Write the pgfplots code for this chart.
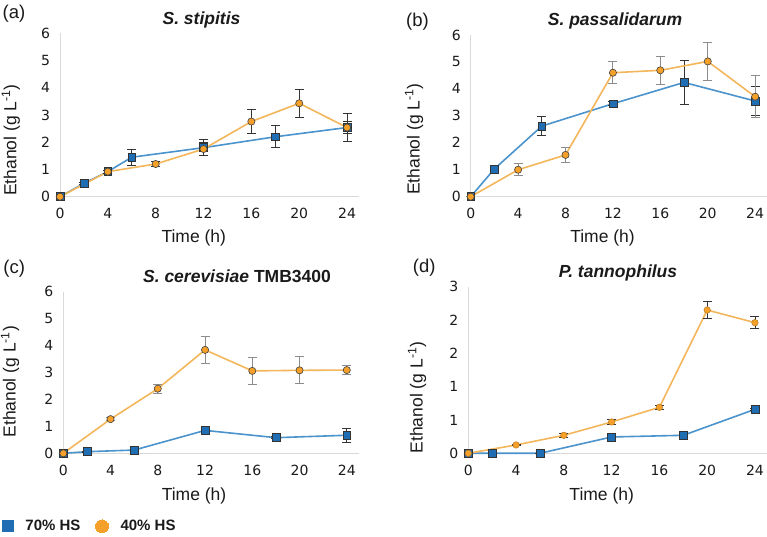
\documentclass[border=0pt]{standalone}
\usepackage{pgfplots}
\pgfplotsset{compat=1.18}
\usepackage{fontspec}
\setmainfont{Liberation Sans}
\newfontfamily\tickfont{DejaVu Sans}
\newcommand\tkf{\tickfont\fontsize{14bp}{16bp}\selectfont}
\definecolor{bluemk}{HTML}{1F6EB4}
\definecolor{blueln}{HTML}{4B93CC}
\definecolor{orgmk}{HTML}{F5A028}
\definecolor{orgln}{HTML}{F3B65B}
\definecolor{axgray}{HTML}{D9D9D9}
\definecolor{errgray}{HTML}{8C8C8C}
\definecolor{txt}{HTML}{1A1A1A}
\pgfplotsset{
  panel/.style={
    scale only axis, anchor=south west,
    xmin=0, xmax=25, ymin=0,
    xtick={0,4,...,24},
    axis x line=bottom, axis y line=left,
    axis line style={axgray, line width=1bp, -},
    major tick length=0pt,
    tick label style={font=\tkf, text=txt},
    xticklabel={\tkf\pgfmathprintnumber{\tick}},
    yticklabel={\tkf\pgfmathprintnumber{\tick}},
    xticklabel style={yshift=-8bp},
    yticklabel style={xshift=-6.5bp},
    /pgf/number format/assume math mode=true,
    clip=false,
  },
  bser/.style={color=blueln, line width=1.6bp, mark=square*,
    mark size=3.9bp, mark options={fill=bluemk, draw=black!80, line width=0.6bp},
    error bars/y dir=both, error bars/y explicit,
    error bars/error bar style={black!80, line width=0.9bp},
    error bars/error mark options={rotate=90, mark size=4.5bp, line width=0.9bp, black!80}},
  oser/.style={color=orgln, line width=1.6bp, mark=*,
    mark size=3.6bp, mark options={fill=orgmk, draw=black!75, line width=0.6bp},
    error bars/y dir=both, error bars/y explicit,
    error bars/error bar style={#1, line width=0.9bp},
    error bars/error mark options={rotate=90, mark size=4.5bp, line width=0.9bp, #1}},
  oser/.default={black!80},
}
\pgfplotstableread{
x y e
0 0 0
2 0.49 0.03
4 0.92 0.05
6 1.45 0.29
12 1.80 0.30
18 2.20 0.40
24 2.54 0.22
}\aB
\pgfplotstableread{
x y e
0 0 0
4 0.92 0.05
8 1.20 0.08
12 1.75 0.25
16 2.76 0.43
20 3.43 0.51
24 2.54 0.52
}\aO
\pgfplotstableread{
x y e
0 0 0
2 1.03 0.04
6 2.62 0.35
12 3.45 0.08
18 4.24 0.83
24 3.55 0.55
}\bB
\pgfplotstableread{
x y e
0 0 0
4 1.00 0.22
8 1.55 0.29
12 4.60 0.41
16 4.69 0.52
20 5.02 0.71
24 3.71 0.78
}\bO
\pgfplotstableread{
x y e
0 0 0
2 0.06 0.02
6 0.12 0.02
12 0.85 0.06
18 0.58 0.04
24 0.67 0.25
}\cB
\pgfplotstableread{
x y e
0 0 0
4 1.27 0.05
8 2.40 0.17
12 3.84 0.50
16 3.06 0.51
20 3.08 0.50
24 3.09 0.17
}\cO
\pgfplotstableread{
x y e
0 0 0
2 0 0
6 0 0
12 0.245 0.01
18 0.27 0.01
24 0.66 0.02
}\dB
\pgfplotstableread{
x y e
0 0 0
4 0.125 0.01
8 0.27 0.03
12 0.47 0.04
16 0.69 0.03
20 2.15 0.125
24 1.96 0.09
}\dO
\begin{document}
\begin{tikzpicture}
\useasboundingbox (0,0) rectangle (767bp,537bp);
% (a)
\begin{axis}[panel, at={(60bp,340.3bp)}, width=299bp, height=163.4bp, ymax=6, ytick={0,1,...,6}]
\addplot[bser] table[x=x,y=y,y error=e] {\aB};
\addplot[oser] table[x=x,y=y,y error=e] {\aO};
\end{axis}
% (b)
\begin{axis}[panel, at={(470.7bp,340.3bp)}, width=296.3bp, height=161.7bp, ymax=6, ytick={0,1,...,6}]
\addplot[bser] table[x=x,y=y,y error=e] {\bB};
\addplot[oser=errgray] table[x=x,y=y,y error=e] {\bO};
\end{axis}
% (c)
\begin{axis}[panel, at={(63.3bp,83.7bp)}, width=295.3bp, height=161.6bp, ymax=6, ytick={0,1,...,6},
  legend columns=2,
  legend style={draw=none, fill=none, inner sep=0pt, at={(-0.2052,-0.4517)}, anchor=west,
    font=\bfseries\fontsize{15bp}{18bp}\selectfont, text=txt,
    /tikz/every odd column/.append style={column sep=10bp},
    /tikz/every even column/.append style={column sep=13bp}},
  legend cell align=left,
  legend image code/.code={\draw[#1] plot coordinates {(0bp,0bp)};}]
\addlegendimage{only marks, mark=square*, mark size=5.3bp, mark options={fill=bluemk, draw=bluemk, line width=0pt}}
\addlegendentry{70\% HS}
\addlegendimage{only marks, mark=*, mark size=6.5bp, mark options={fill=orgmk, draw=orgmk, line width=0pt}}
\addlegendentry{40\% HS}
\addplot[bser, forget plot] table[x=x,y=y,y error=e] {\cB};
\addplot[oser=errgray, forget plot] table[x=x,y=y,y error=e] {\cO};
\end{axis}
% (d)
\begin{axis}[panel, at={(468.3bp,83.7bp)}, width=298.6bp, height=166.6bp, ymax=2.5,
  ytick={0,0.5,1,1.5,2,2.5}, yticklabels={0,1,1,2,2,3}]
\addplot[bser] table[x=x,y=y,y error=e] {\dB};
\addplot[oser, mark size=3.3bp, mark options={fill=orgmk, draw=orgmk!70!black, line width=0.4bp}] table[x=x,y=y,y error=e] {\dO};
\end{axis}
% titles
\begin{scope}[every node/.style={inner sep=0pt, text=txt}]
\node[anchor=base, font=\bfseries\itshape\fontsize{17.5bp}{20bp}\selectfont] at (201.5bp,512bp) {S. stipitis};
\node[anchor=base, font=\bfseries\itshape\fontsize{17.5bp}{20bp}\selectfont] at (615bp,511bp) {S. passalidarum};
\node[anchor=base, font=\bfseries\fontsize{17.5bp}{20bp}\selectfont] at (237bp,254.7bp) {\itshape S. cerevisiae\upshape{} TMB3400};
\node[anchor=base, font=\bfseries\itshape\fontsize{17.5bp}{20bp}\selectfont] at (618bp,259.3bp) {P. tannophilus};
\node[font=\fontsize{18.5bp}{22bp}\selectfont] at (14bp,523.7bp) {(a)};
\node[font=\fontsize{18.5bp}{22bp}\selectfont] at (417.5bp,515.3bp) {(b)};
\node[font=\fontsize{18.5bp}{22bp}\selectfont] at (14.2bp,268.7bp) {(c)};
\node[font=\fontsize{18.5bp}{22bp}\selectfont] at (424.2bp,269.7bp) {(d)};
\node[rotate=90, font=\fontsize{17.5bp}{20bp}\selectfont] at (10.8bp,397bp) {Ethanol (g L\textsuperscript{-1})};
\node[rotate=90, font=\fontsize{17.5bp}{20bp}\selectfont] at (414bp,398bp) {Ethanol (g L\textsuperscript{-1})};
\node[rotate=90, font=\fontsize{17.5bp}{20bp}\selectfont] at (10bp,155.3bp) {Ethanol (g L\textsuperscript{-1})};
\node[rotate=90, font=\fontsize{17.5bp}{20bp}\selectfont] at (417bp,139.5bp) {Ethanol (g L\textsuperscript{-1})};
\node[font=\fontsize{17.5bp}{20bp}\selectfont] at (193.8bp,299.5bp) {Time (h)};
\node[font=\fontsize{17.5bp}{20bp}\selectfont] at (602.5bp,299bp) {Time (h)};
\node[font=\fontsize{17.5bp}{20bp}\selectfont] at (194bp,41.2bp) {Time (h)};
\node[font=\fontsize{17.5bp}{20bp}\selectfont] at (601.7bp,41bp) {Time (h)};
\end{scope}
\end{tikzpicture}
\end{document}
